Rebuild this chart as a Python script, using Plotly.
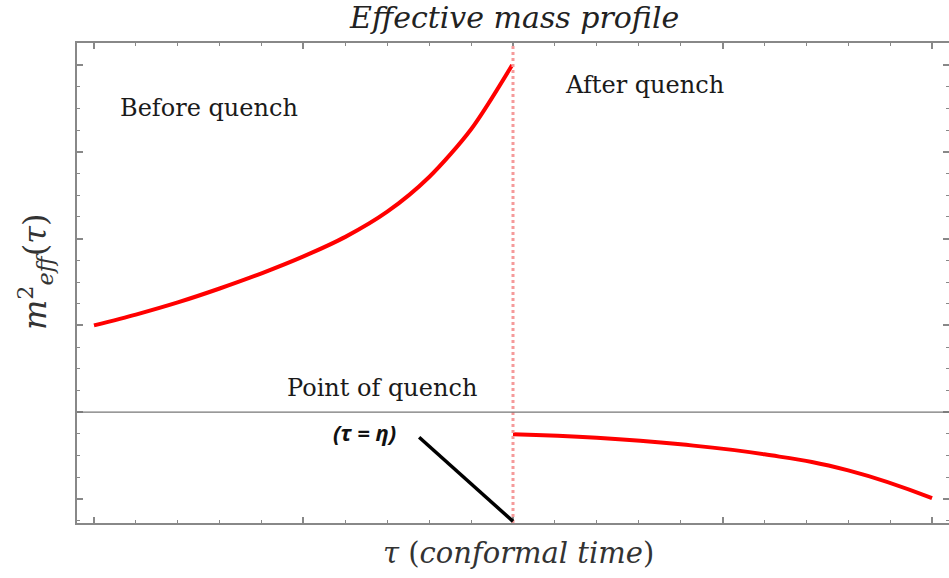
import plotly.graph_objects as go

# Before quench (tau in arbitrary units, quench at tau = 10)
tau_before = [0.0, 1.0, 2.0, 3.0, 4.0, 5.0, 6.0, 7.0, 8.0, 9.0, 9.98]
m2_before = [1.0, 1.125, 1.265, 1.425, 1.6, 1.795, 2.02, 2.31, 2.71, 3.26, 4.0]

# After quench
tau_after = [10.0, 12.0, 14.0, 16.0, 18.0, 20.0]
m2_after = [-0.254, -0.295, -0.37, -0.485, -0.67, -0.99]

tau_quench = 10.0

# annotation pointer line (from label to quench point)
pointer_x = [7.76, 10.0]
pointer_y = [-0.288, -1.257]

x_range = [-0.405, 20.405]
y_range = [-1.276, 4.253]

fig = go.Figure()
fig.add_trace(go.Scatter(x=tau_before, y=m2_before, mode="lines",
                         line=dict(color="#ff0000", width=4, shape="spline", smoothing=0.8),
                         showlegend=False, hoverinfo="skip"))
fig.add_trace(go.Scatter(x=tau_after, y=m2_after, mode="lines",
                         line=dict(color="#ff0000", width=4, shape="spline", smoothing=1.3),
                         showlegend=False, hoverinfo="skip"))

# dotted vertical line at quench
fig.add_shape(type="line", xref="x", yref="paper", x0=tau_quench, x1=tau_quench,
              y0=0, y1=1, line=dict(color="#f59a9a", width=3, dash="dot"))
# pointer line
fig.add_shape(type="line", xref="x", yref="y", x0=pointer_x[0], y0=pointer_y[0],
              x1=pointer_x[1], y1=pointer_y[1], line=dict(color="#000000", width=3.5))

serif = "DejaVu Serif"
lab = dict(showarrow=False, xanchor="center", yanchor="middle")
fig.add_annotation(x=2.74, y=3.505, text="Before quench",
                   font=dict(family=serif, size=24, color="#1a1a1a"), **lab)
fig.add_annotation(x=13.14, y=3.77, text="After quench",
                   font=dict(family=serif, size=24, color="#1a1a1a"), **lab)
fig.add_annotation(x=6.88, y=0.279, text="Point of quench",
                   font=dict(family=serif, size=24, color="#1a1a1a"), **lab)
fig.add_annotation(x=6.45, y=-0.228, text="<b><i>(τ = η)</i></b>",
                   font=dict(family="Open Sans", size=22, color="#111111"), **lab)

# titles (plot area spans x 77..951, y 43..523)
fig.add_annotation(xref="paper", yref="paper", x=0.5, y=1.0, yshift=26, xshift=1,
                   text="<i>Effective mass profile</i>",
                   font=dict(family=serif, size=30, color="#222222"), **lab)
fig.add_annotation(xref="paper", yref="paper", x=0.5, y=0.0, yshift=-30, xshift=5,
                   text="<i>τ</i> (<i>conformal time</i>)",
                   font=dict(family=serif, size=29, color="#333333"), **lab)
fig.add_annotation(xref="paper", yref="paper", x=0.0, xshift=-42, y=0.5, yshift=11,
                   text="<i>m</i><sup>2</sup><i><sub>eff</sub></i>(<i>τ</i>)", textangle=-90,
                   font=dict(family=serif, size=32, color="#333333"), **lab)

axis_common = dict(showgrid=False, showline=True, linecolor="#888888", linewidth=1.5,
                   mirror="ticks", ticks="inside", tickcolor="#888888",
                   showticklabels=False, zeroline=False)
fig.update_xaxes(range=x_range, tick0=0, dtick=5, ticklen=6, tickwidth=1.5,
                 minor=dict(ticks="inside", dtick=1, ticklen=3, tickcolor="#888888", tickwidth=1),
                 **axis_common)
fig.update_yaxes(range=y_range, tick0=0, dtick=1, ticklen=6, tickwidth=1.5,
                 minor=dict(ticks="inside", dtick=0.25, ticklen=3, tickcolor="#888888", tickwidth=1),
                 **axis_common)
# horizontal axis line at zero
fig.add_shape(type="line", xref="paper", yref="y", x0=0, x1=1, y0=0, y1=0,
              line=dict(color="#777777", width=1.2))

fig.update_layout(width=951, height=578, margin=dict(l=77, r=0, t=43, b=55),
                  plot_bgcolor="white", paper_bgcolor="white")
fig.write_html("out.html", config={"displayModeBar": False},
               post_script="document.body.style.margin='0';document.body.style.overflow='hidden';")
